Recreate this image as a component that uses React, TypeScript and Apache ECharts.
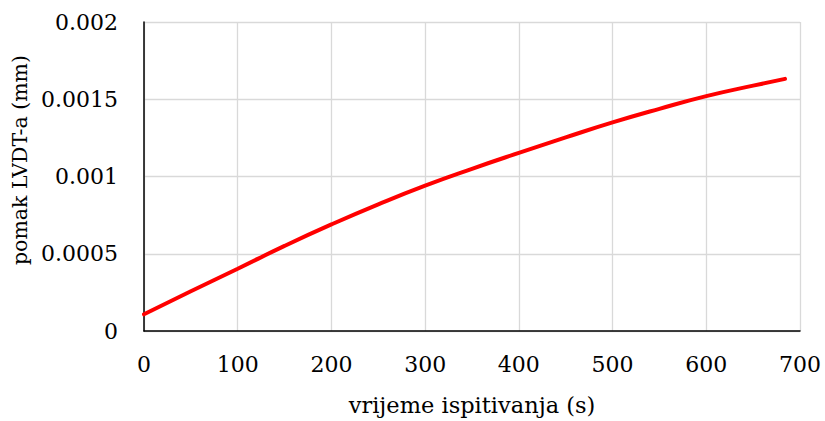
import React, { useEffect, useRef } from "react";
import * as echarts from "echarts";

const timeS = [0, 50, 100, 150, 200, 250, 300, 350, 400, 450, 500, 550, 600, 650, 684];
const displacementMm = [0.000108, 0.000257, 0.000403, 0.000551, 0.00069, 0.00082, 0.000941, 0.00105, 0.001153, 0.001253, 0.00135, 0.001438, 0.00152, 0.001588, 0.001632];
const xTitle = "vrijeme ispitivanja (s)";
const yTitle = "pomak LVDT-a (mm)";

const FONT = "DejaVu Serif";

export default function App() {
  const ref = useRef<HTMLDivElement>(null);
  useEffect(() => {
    if (!ref.current) return;
    const chart = echarts.init(ref.current, null, { renderer: "svg", width: 825, height: 421 });
    chart.setOption({
      animation: false,
      backgroundColor: "#ffffff",
      grid: { left: 144, width: 656, top: 22, height: 314, containLabel: false },
      graphic: [
        {
          type: "text",
          x: 20,
          y: 160,
          rotation: Math.PI / 2,
          style: {
            text: yTitle,
            fontFamily: FONT,
            fontSize: 20.5,
            fill: "#000",
            align: "center",
            verticalAlign: "middle",
          },
        },
      ],
      xAxis: {
        type: "value",
        min: 0,
        max: 700,
        interval: 100,
        name: xTitle,
        nameLocation: "middle",
        nameGap: 62,
        nameTextStyle: { fontFamily: FONT, fontSize: 22.5, color: "#000" },
        axisLine: { show: true, onZero: false, lineStyle: { color: "#000", width: 1.5 } },
        axisTick: { show: false },
        axisLabel: { fontFamily: FONT, fontSize: 22, color: "#000", margin: 22 },
        splitLine: { show: true, lineStyle: { color: "#d9d9d9", width: 1.3 } },
      },
      yAxis: {
        type: "value",
        min: 0,
        max: 0.002,
        interval: 0.0005,
        axisLine: { show: true, lineStyle: { color: "#000", width: 1.5 } },
        axisTick: { show: false },
        axisLabel: {
          fontFamily: FONT,
          fontSize: 22,
          color: "#000",
          margin: 26,
          formatter: (v: number) => (v === 0 ? "0" : String(parseFloat(v.toFixed(4)))),
        },
        splitLine: { show: true, lineStyle: { color: "#d9d9d9", width: 1.3 } },
      },
      series: [
        {
          type: "line",
          data: timeS.map((t, i) => [t, displacementMm[i]]),
          smooth: true,
          showSymbol: false,
          symbol: "none",
          lineStyle: { color: "#ff0000", width: 4, cap: "round" },
        },
      ],
    });
    return () => chart.dispose();
  }, []);
  return (
    <div
      ref={ref}
      style={{ position: "fixed", left: 0, top: 0, width: 825, height: 421 }}
    />
  );
}
